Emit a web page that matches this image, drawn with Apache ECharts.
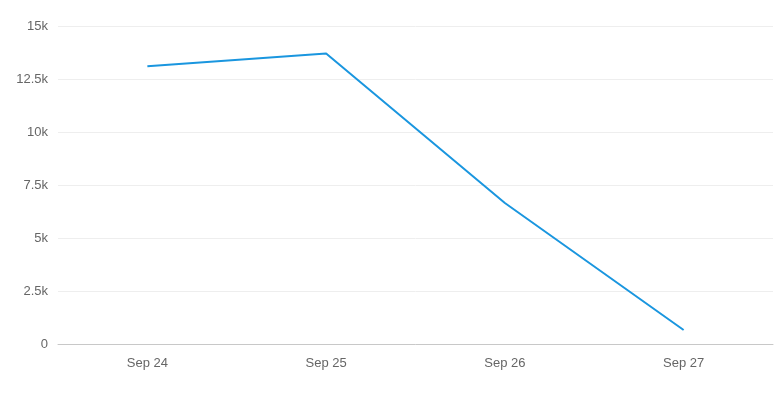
<!DOCTYPE html>
<html>
<head>
<meta charset="utf-8">
<script src="https://cdn.jsdelivr.net/npm/echarts@6/dist/echarts.min.js"></script>
<style>html,body{margin:0;padding:0;background:#fff;}#c{width:784px;height:399px;}</style>
</head>
<body>
<div id="c"></div>
<script>
const categories = ['Sep 24', 'Sep 25', 'Sep 26', 'Sep 27'];
const values = [13100, 13700, 6650, 660];
const yTicks = [0, 2500, 5000, 7500, 10000, 12500, 15000];

const chart = echarts.init(document.getElementById('c'), null, {renderer: 'canvas'});
chart.setOption({
  animation: false,
  grid: {left: 58, right: 11, top: 26, bottom: 55},
  xAxis: {
    type: 'category',
    data: categories,
    boundaryGap: true,
    axisLine: {lineStyle: {color: '#c8c8c8', width: 1}},
    axisTick: {alignWithLabel: true, length: 5, lineStyle: {color: '#c8c8c8'}},
    axisLabel: {color: '#666', fontSize: 13, fontFamily: '"Liberation Sans", Arial, sans-serif', margin: 13}
  },
  yAxis: {
    type: 'value',
    min: yTicks[0],
    max: yTicks[yTicks.length - 1],
    interval: 2500,
    axisLine: {show: false},
    axisTick: {show: false},
    splitLine: {lineStyle: {color: '#eeeeee'}},
    axisLabel: {
      color: '#666', fontSize: 13, fontFamily: '"Liberation Sans", Arial, sans-serif', margin: 10,
      formatter: v => v === 0 ? '0' : (v / 1000) + 'k'
    }
  },
  series: [{
    type: 'line',
    data: values,
    showSymbol: false,
    symbol: 'none',
    lineStyle: {color: '#1a96df', width: 2},
    itemStyle: {color: '#1a96df'}
  }]
});
</script>
</body>
</html>
